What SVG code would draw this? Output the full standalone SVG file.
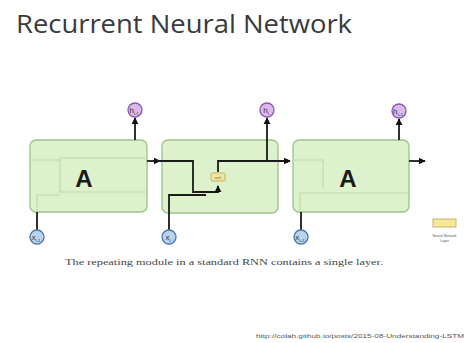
<svg xmlns="http://www.w3.org/2000/svg" width="464" height="343" viewBox="0 0 464 343">
<defs>
<marker id="ah" viewBox="0 0 10 10" refX="9" refY="5" markerWidth="4" markerHeight="4" orient="auto"><path d="M0,0 L10,5 L0,10 z" fill="#111"/></marker>
<style>
.box{fill:#dcf1cc;stroke:#9cc488;stroke-width:1.3}
.ghost{fill:none;stroke:#bcdca8;stroke-width:1.2}
.wire{fill:none;stroke:#1a1a1a;stroke-width:1.8}
.hc{fill:#dcb8ec;stroke:#8a5aa6;stroke-width:1.3}
.xc{fill:#b9d3ee;stroke:#4b78aa;stroke-width:1.3}
.ctxt{font-family:"Liberation Sans",sans-serif;font-size:8px;fill:#333;text-anchor:middle}
.sub{font-size:4px}
.A{font-family:"Liberation Sans",sans-serif;font-size:24px;font-weight:bold;fill:#1a1a1a;text-anchor:middle}
</style>
</defs>
<rect width="464" height="343" fill="#fff"/>
<text x="16" y="33" font-family="'Open Sans','Liberation Sans',sans-serif" font-size="26" fill="#3a3a3a" textLength="336" lengthAdjust="spacingAndGlyphs">Recurrent Neural Network</text>

<g id="cell1">
<rect class="box" x="30" y="140" width="117" height="72" rx="6"/>
<path class="ghost" d="M30,160 H60 V192 H147 M60,160 V158 H147 M37,212 V195 H60"/>
<text class="A" x="84" y="187">A</text>
</g>
<g id="cell2">
<rect class="box" x="162" y="140" width="116" height="73" rx="6"/>
</g>
<g id="cell3">
<rect class="box" x="293" y="140" width="116" height="72" rx="6"/>
<path class="ghost" d="M293,160 H323 V188 M300,212 V193 H409"/>
<text class="A" x="348" y="187">A</text>
</g>

<g id="connectors">
<line class="wire" x1="147" y1="161" x2="160" y2="161" marker-end="url(#ah)"/>
<line class="wire" x1="135" y1="140" x2="135" y2="118" marker-end="url(#ah)"/>
<line class="wire" x1="37" y1="212" x2="37" y2="230"/>
<path class="wire" d="M155,161 H193 V192 H218 V186" marker-end="url(#ah)"/>
<path class="wire" d="M169,230 V195 H206"/>
<path class="wire" d="M218,172 V161 H290" marker-end="url(#ah)"/>
<line class="wire" x1="267" y1="161" x2="267" y2="118" marker-end="url(#ah)"/>
<circle cx="155" cy="161" r="1.8" fill="#111"/>
<circle cx="287" cy="161" r="1.8" fill="#111"/>
<line class="wire" x1="399" y1="140" x2="399" y2="119" marker-end="url(#ah)"/>
<line class="wire" x1="409" y1="161" x2="425" y2="161" marker-end="url(#ah)"/>
<line class="wire" x1="301" y1="212" x2="301" y2="230"/>
</g>

<g id="tanh">
<rect x="211" y="173" width="14" height="8" rx="1.5" fill="#f3e7a0" stroke="#b9a550" stroke-width="0.8"/>
<text x="218" y="178.5" font-family="'Liberation Sans',sans-serif" font-size="3.5" fill="#7a6a30" text-anchor="middle">tanh</text>
</g>

<g id="h1"><circle class="hc" cx="135" cy="110" r="7"/><text class="ctxt" x="134" y="113">h<tspan class="sub" dy="1.5">t-1</tspan></text></g>
<g id="h2"><circle class="hc" cx="267" cy="110" r="7"/><text class="ctxt" x="266" y="113">h<tspan class="sub" dy="1.5">t</tspan></text></g>
<g id="h3"><circle class="hc" cx="399" cy="111" r="7"/><text class="ctxt" x="398" y="114">h<tspan class="sub" dy="1.5">t+1</tspan></text></g>
<g id="x1"><circle class="xc" cx="37" cy="237" r="7"/><text class="ctxt" x="36" y="240">x<tspan class="sub" dy="1.5">t-1</tspan></text></g>
<g id="x2"><circle class="xc" cx="169" cy="237" r="7"/><text class="ctxt" x="168" y="240">x<tspan class="sub" dy="1.5">t</tspan></text></g>
<g id="x3"><circle class="xc" cx="301" cy="237" r="7"/><text class="ctxt" x="300" y="240">x<tspan class="sub" dy="1.5">t+1</tspan></text></g>

<g id="legend">
<rect x="433" y="219" width="23" height="8" fill="#f5e89a" stroke="#b9a550" stroke-width="0.8"/>
<text x="444.5" y="237" font-family="'Liberation Sans',sans-serif" font-size="3.5" fill="#555" text-anchor="middle">Neural Network</text>
<text x="444.5" y="242" font-family="'Liberation Sans',sans-serif" font-size="3.5" fill="#555" text-anchor="middle">Layer</text>
</g>

<text x="65" y="265" font-family="'Liberation Serif',serif" font-size="9" fill="#444" textLength="318" lengthAdjust="spacingAndGlyphs">The repeating module in a standard RNN contains a single layer.</text>
<text x="256" y="338" font-family="'Liberation Sans',sans-serif" font-size="5.5" fill="#555" textLength="208" lengthAdjust="spacingAndGlyphs">http://colah.github.io/posts/2015-08-Understanding-LSTM</text>
</svg>
